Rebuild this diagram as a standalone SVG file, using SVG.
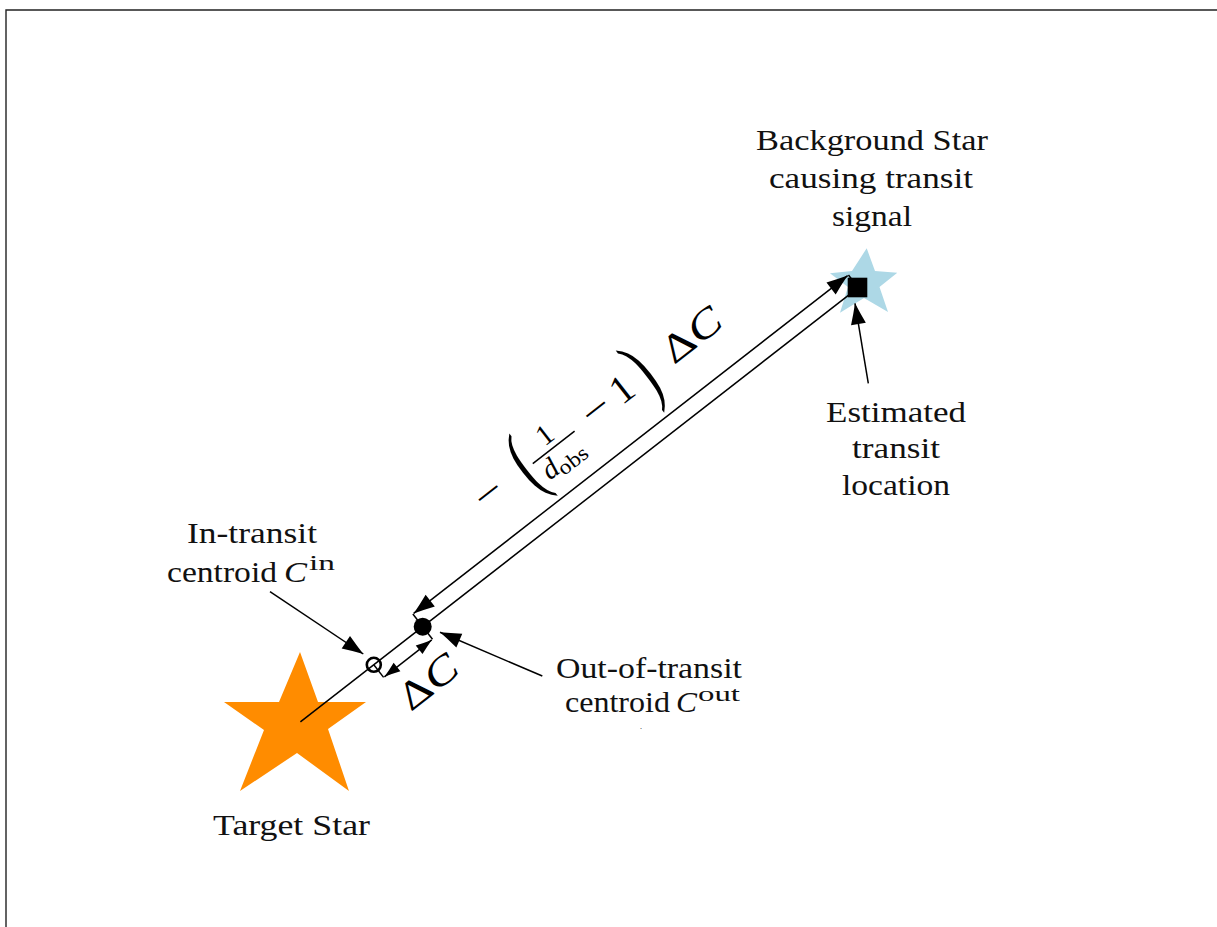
<svg xmlns="http://www.w3.org/2000/svg" width="1217" height="927" viewBox="0 0 1217 927">
<style>
.lbl{font-family:"Liberation Serif","Times New Roman",serif;font-size:30px;fill:#111}
.sup{font-family:"Liberation Serif","Times New Roman",serif;font-size:20px;fill:#111}
.it{font-style:italic}
.ln{stroke:#000;stroke-width:1.5;fill:none}
.m{font-family:"Liberation Serif","Times New Roman",serif;fill:#000}
</style>
<defs>
<marker id="ah" markerUnits="userSpaceOnUse" markerWidth="26" markerHeight="20" viewBox="-23 -10 26 20" refX="0" refY="0" orient="auto-start-reverse">
<path d="M0,0 Q-10,-3.2 -21,-7.5 L-21,7.5 Q-10,3.2 0,0Z" fill="#000"/>
</marker>
<marker id="ahs" markerUnits="userSpaceOnUse" markerWidth="20" markerHeight="16" viewBox="-18 -8 20 16" refX="0" refY="0" orient="auto-start-reverse">
<path d="M0,0 Q-8,-2.4 -16,-5.5 L-16,5.5 Q-8,2.4 0,0Z" fill="#000"/>
</marker>
</defs>
<rect width="1217" height="927" fill="#fff"/>
<path d="M6,927 V10 H1217" stroke="#222" stroke-width="1.4" fill="none"/>

<g id="target-star">
<polygon fill="#FF8C00" points="300,652 318,702 366,702 328,729 349,791 297,753 240,791 264,730 224,702 279,702"/>
<text class="lbl" x="213" y="835" textLength="157" lengthAdjust="spacingAndGlyphs">Target Star</text>
</g>

<g id="background-star">
<polygon fill="#ADD8E6" points="866.7,248.3 875,271 897.3,272.7 879.5,287 888,312 864,298 840,312.7 848,287 830,273.3 852,271"/>
<text class="lbl" x="756" y="150" textLength="232" lengthAdjust="spacingAndGlyphs">Background Star</text>
<text class="lbl" x="769" y="188" textLength="204" lengthAdjust="spacingAndGlyphs">causing transit</text>
<text class="lbl" x="832" y="226" textLength="80" lengthAdjust="spacingAndGlyphs">signal</text>
</g>

<g id="estimated-location">
<rect x="847.7" y="277.7" width="19.6" height="19.6" fill="#000"/>
<text class="lbl" x="826" y="422" textLength="140" lengthAdjust="spacingAndGlyphs">Estimated</text>
<text class="lbl" x="852" y="458" textLength="88" lengthAdjust="spacingAndGlyphs">transit</text>
<text class="lbl" x="842" y="495" textLength="108" lengthAdjust="spacingAndGlyphs">location</text>
</g>

<g id="in-transit-centroid">
<circle cx="373.8" cy="664.8" r="7" fill="none" stroke="#000" stroke-width="2.6"/>
<text class="lbl" x="187" y="543" textLength="130" lengthAdjust="spacingAndGlyphs">In-transit</text>
<text class="lbl" x="167" y="582" textLength="110" lengthAdjust="spacingAndGlyphs">centroid</text>
<text class="lbl it" x="284" y="582" textLength="23" lengthAdjust="spacingAndGlyphs">C</text>
<text class="sup" x="309" y="570" textLength="26" lengthAdjust="spacingAndGlyphs">in</text>
</g>

<g id="out-of-transit-centroid">
<circle cx="422.7" cy="626.7" r="9" fill="#000"/>
<text class="lbl" x="556" y="678" textLength="186" lengthAdjust="spacingAndGlyphs">Out-of-transit</text>
<text class="lbl" x="565" y="712" textLength="105" lengthAdjust="spacingAndGlyphs">centroid</text>
<text class="lbl it" x="676" y="712" textLength="21" lengthAdjust="spacingAndGlyphs">C</text>
<text class="sup" x="698" y="701" textLength="42" lengthAdjust="spacingAndGlyphs">out</text>
<text class="m" x="640" y="729" style="font-size:8px">.</text>
</g>

<g id="connectors">
<g transform="translate(422.7,626.7) rotate(-37.9)">
<line class="ln" x1="-155" y1="0" x2="552" y2="0"/>
<line class="ln" x1="0" y1="0" x2="0" y2="-16"/>
<line class="ln" x1="552" y1="0" x2="552" y2="-16"/>
<line class="ln" x1="1" y1="-16" x2="551" y2="-16" marker-start="url(#ah)" marker-end="url(#ah)"/>
<line class="ln" x1="-62" y1="0" x2="-62" y2="16"/>
<line class="ln" x1="0" y1="0" x2="0" y2="16"/>
<line class="ln" x1="-61" y1="16" x2="-1" y2="16" marker-start="url(#ahs)" marker-end="url(#ahs)"/>
</g>
<line class="ln" x1="270" y1="591.7" x2="363.3" y2="654" marker-end="url(#ah)"/>
<line class="ln" x1="542.3" y1="676" x2="440" y2="632.3" marker-end="url(#ah)"/>
<line class="ln" x1="868.3" y1="383.3" x2="855" y2="303.3" marker-end="url(#ah)"/>
</g>

<g id="offset-label" transform="translate(422.7,626.7) rotate(-37.9)">
<text class="m" x="133.6" y="-52" text-anchor="middle" style="font-size:40px" textLength="28" lengthAdjust="spacingAndGlyphs">−</text>
<text class="m" transform="translate(180,-39) scale(0.6,1)" style="font-size:87px" text-anchor="middle">(</text>
<text class="m" x="214" y="-67" style="font-size:29px" text-anchor="middle">1</text>
<line x1="187" y1="-61" x2="240" y2="-61" stroke="#000" stroke-width="1.5"/>
<text class="m it" x="190" y="-37" style="font-size:29px">d</text>
<text class="m" x="204" y="-32" style="font-size:21px" textLength="33" lengthAdjust="spacingAndGlyphs">obs</text>
<text class="m" x="270" y="-52" text-anchor="middle" style="font-size:40px" textLength="28" lengthAdjust="spacingAndGlyphs">−</text>
<text class="m" x="303" y="-52" text-anchor="middle" style="font-size:40px">1</text>
<text class="m" transform="translate(329,-39) scale(0.6,1)" style="font-size:87px" text-anchor="middle">)</text>
<text class="m" x="359" y="-52" style="font-size:40px" textLength="65" lengthAdjust="spacingAndGlyphs">Δ<tspan class="it">C</tspan></text>
</g>

<g id="delta-label" transform="translate(422.7,626.7) rotate(-37.9)">
<text class="m" x="-62" y="60" style="font-size:40px" textLength="65" lengthAdjust="spacingAndGlyphs">Δ<tspan class="it">C</tspan></text>
</g>
</svg>
